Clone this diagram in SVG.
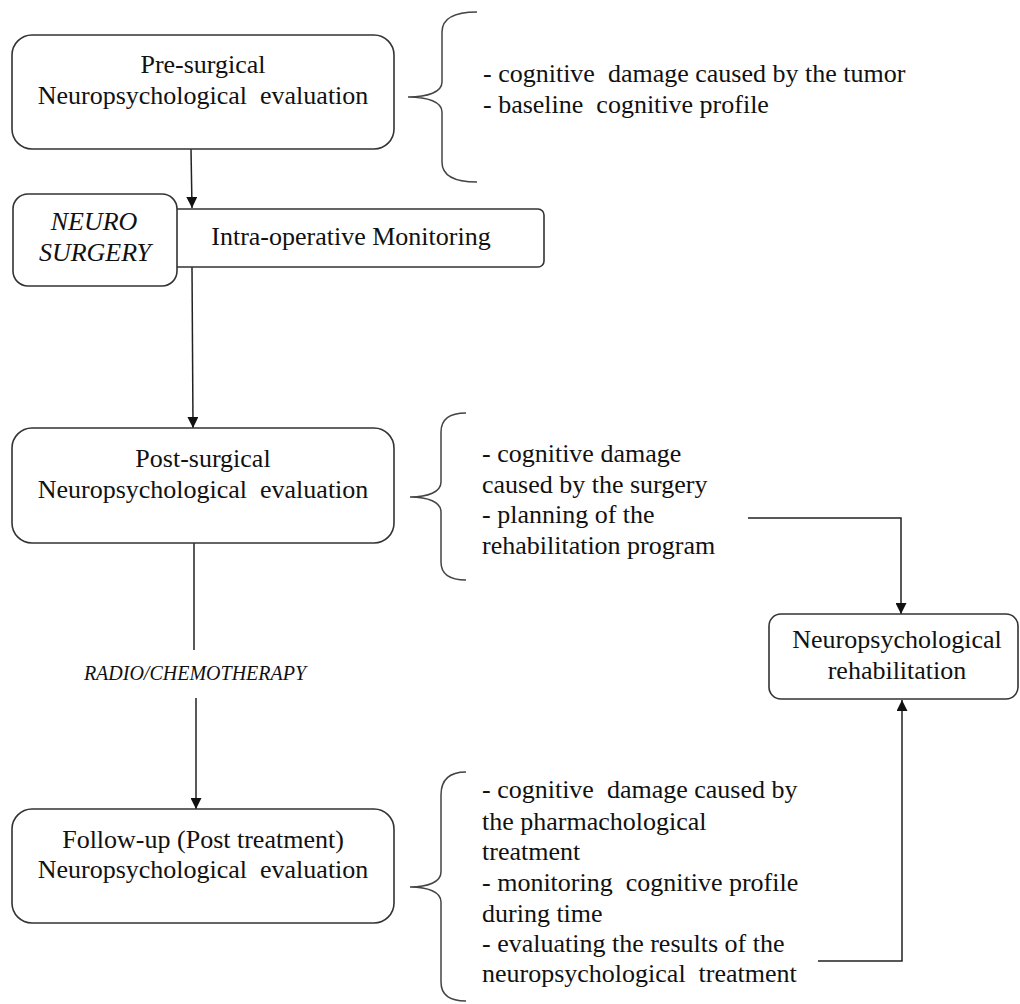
<svg xmlns="http://www.w3.org/2000/svg" width="1020" height="1004" viewBox="0 0 1020 1004">
<style>
.box{fill:#fff;stroke:#333;stroke-width:1.6}
.br{fill:none;stroke:#444;stroke-width:1.5}
.t{font-family:'Liberation Serif','DejaVu Serif',serif;font-size:26px;fill:#111}
.c{text-anchor:middle}
.i{font-style:italic}
.con{fill:none;stroke:#222;stroke-width:1.5}
</style>
<defs>
<marker id="ah" viewBox="0 0 10 10" refX="10" refY="5" markerWidth="11" markerHeight="11" markerUnits="userSpaceOnUse" orient="auto">
<path d="M0,0 L10,5 L0,10 Z" fill="#111"/>
</marker>
</defs>
<rect width="1020" height="1004" fill="#fff"/>

<g id="connectors">
<line class="con" x1="191" y1="149" x2="192" y2="208" marker-end="url(#ah)"/>
<line class="con" x1="192" y1="267" x2="193" y2="428" marker-end="url(#ah)"/>
<line class="con" x1="194" y1="543" x2="194" y2="650"/>
<line class="con" x1="196" y1="698" x2="196" y2="809" marker-end="url(#ah)"/>
<polyline class="con" points="748,518 901,518 901,614" marker-end="url(#ah)"/>
<polyline class="con" points="818,961 902,961 902,700" marker-end="url(#ah)"/>
</g>

<g id="pre">
<rect class="box" x="12" y="35" width="382" height="114" rx="20"/>
<text class="t c" x="203" y="73">Pre-surgical</text>
<text class="t c" x="203" y="104" xml:space="preserve">Neuropsychological  evaluation</text>
</g>

<g id="brace1">
<path class="br" d="M477,12 C455,12 442,18 442,32 L442,82 C442,92 428,97 408,97 C428,97 442,102 442,112 L442,162 C442,176 455,182 477,182"/>
<text class="t" x="483" y="82" xml:space="preserve">- cognitive  damage caused by the tumor</text>
<text class="t" x="483" y="113" xml:space="preserve">- baseline  cognitive profile</text>
</g>

<g id="intra">
<rect class="box" x="170" y="209" width="374" height="58" rx="6"/>
<text class="t c" x="351" y="245">Intra-operative Monitoring</text>
</g>

<g id="neurosurgery">
<rect class="box" x="13" y="194" width="164" height="92" rx="15"/>
<text class="t c i" x="94" y="230">NEURO</text>
<text class="t c i" x="95" y="261">SURGERY</text>
</g>

<g id="post">
<rect class="box" x="12" y="428" width="382" height="115" rx="20"/>
<text class="t c" x="203" y="467">Post-surgical</text>
<text class="t c" x="203" y="498" xml:space="preserve">Neuropsychological  evaluation</text>
</g>

<g id="brace2">
<path class="br" d="M466,413 C450,413 441,419 441,432 L441,482 C441,492 428,497 410,497 C428,497 441,502 441,512 L441,562 C441,575 450,580 466,580"/>
<text class="t" x="482" y="462">- cognitive damage</text>
<text class="t" x="482" y="493">caused by the surgery</text>
<text class="t" x="482" y="523">- planning of the</text>
<text class="t" x="482" y="554">rehabilitation program</text>
</g>

<g id="radio">
<text class="t c i" x="195" y="680" style="font-size:20px">RADIO/CHEMOTHERAPY</text>
</g>

<g id="rehab">
<rect class="box" x="769" y="614" width="249" height="85" rx="12"/>
<text class="t c" x="897" y="648">Neuropsychological</text>
<text class="t c" x="897" y="679">rehabilitation</text>
</g>

<g id="followup">
<rect class="box" x="12" y="809" width="382" height="114" rx="20"/>
<text class="t c" x="203" y="848">Follow-up (Post treatment)</text>
<text class="t c" x="203" y="878" xml:space="preserve">Neuropsychological  evaluation</text>
</g>

<g id="brace3">
<path class="br" d="M466,772 C450,772 441,779 441,795 L441,872 C441,882 428,887 410,887 C428,887 441,892 441,902 L441,982 C441,995 450,1001 466,1001"/>
<text class="t" x="482" y="798" xml:space="preserve">- cognitive  damage caused by</text>
<text class="t" x="482" y="830">the pharmachological</text>
<text class="t" x="482" y="860">treatment</text>
<text class="t" x="482" y="891" xml:space="preserve">- monitoring  cognitive profile</text>
<text class="t" x="482" y="922">during time</text>
<text class="t" x="482" y="952">- evaluating the results of the</text>
<text class="t" x="482" y="982" xml:space="preserve">neuropsychological  treatment</text>
</g>
</svg>
